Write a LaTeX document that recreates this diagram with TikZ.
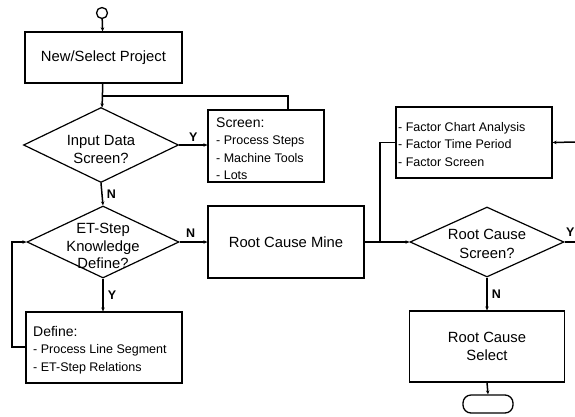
\documentclass[tikz,border=0pt]{standalone}
\usepackage{fontspec}
\setmainfont{Liberation Sans}
\usetikzlibrary{shapes.geometric,arrows.meta}
\begin{document}
\begin{tikzpicture}[x=1pt,y=-1pt,
  box/.style={draw,line width=1.2pt,inner sep=0pt},
  decision/.style={draw,diamond,line width=1.2pt,inner sep=0pt},
  flow/.style={line width=1.5pt,-{Stealth[length=4pt,width=3.5pt]}},
  link/.style={line width=1.5pt},
  maintext/.style={font=\fontsize{14.8}{18}\selectfont,align=center,inner sep=0pt},
  listtext/.style={font=\fontsize{12.5}{17.5}\selectfont,align=left,anchor=west,inner sep=0pt},
  yn/.style={font=\bfseries\fontsize{12.5}{14}\selectfont,inner sep=0pt}]
\useasboundingbox (0,0) rectangle (575,416);

% start / end markers
\node[draw,circle,line width=1.3pt,minimum size=11pt,inner sep=0pt] (start) at (102,13) {};
\node[draw,line width=1.3pt,rounded corners=8pt,minimum width=50pt,minimum height=18pt,inner sep=0pt] (stop) at (488,404) {};

% process boxes
\node[box,minimum width=157pt,minimum height=51pt] (proj) at (103.5,57.5) {};
\node[maintext] (projt) at (proj) {New/Select Project};

\node[box,minimum width=116pt,minimum height=72pt] (screen) at (266,146) {};
\node[listtext] (screent) at (216,148.5) {{\fontsize{14}{17.7}\selectfont Screen:}\\- Process Steps\\- Machine Tools\\- Lots};

\node[box,minimum width=156pt,minimum height=72pt] (mine) at (286,242) {};
\node[maintext] (minet) at (mine) {Root Cause Mine};

\node[box,minimum width=156pt,minimum height=71pt] (define) at (104,347.5) {};
\node[listtext] (definet) at (33,350) {{\fontsize{14}{16.5}\selectfont Define:}\\- Process Line Segment\\- ET-Step Relations};

\node[box,minimum width=156pt,minimum height=71pt] (factor) at (474,142.5) {};
\node[listtext] (factort) at (398,144.5) {- Factor Chart Analysis\\- Factor Time Period\\- Factor Screen};

\node[box,minimum width=155pt,minimum height=71pt] (select) at (487,346.5) {};
\node[maintext] (selectt) at (select) {Root Cause\\Select};

% decisions
\node[decision,minimum width=155pt,minimum height=75pt] (d1) at (101,145) {};
\node[maintext] (d1t) at (101,149) {Input Data\\Screen?};

\node[decision,minimum width=152pt,minimum height=72pt] (d2) at (103,242) {};
\node[maintext,font=\fontsize{14.8}{17.5}\selectfont] (d2t) at (103,246) {ET-Step\\Knowledge\\Define?};

\node[decision,minimum width=154pt,minimum height=70pt] (d3) at (487,242) {};
\node[maintext,font=\fontsize{14.8}{19}\selectfont] (d3t) at (487,244) {Root Cause\\Screen?};

% free ends at the right edge
\coordinate (exitY) at (575,242);
\coordinate (backin) at (575,142);

% connectors
\draw[flow] (start) -- (proj);
\draw[flow] (proj) -- (d1);
\draw[link] (screen.north -| 288,0) |- (102,96);
\draw[flow] (d1.east) -- node[yn,above=3pt] (ly1) {Y} (screen.west |- d1.east);
\draw[flow] (d1.south) -- node[yn,right=4pt] (ln1) {N} (d2.north);
\draw[flow] (d2.east) -- node[yn,above=4pt,pos=0.4] (ln2) {N} (mine.west |- d2.east);
\draw[flow] (d2.south) -- node[yn,right=4pt] (ly2) {Y} (define.north -| d2.south);
\draw[flow] (define.west |- 0,347) -- (12,347) |- (d2.west);
\draw[flow] (mine.east) -- (d3.west);
\draw[link] (factor.west) -| (380,242);
\draw[link] (d3.east) -- node[yn,above=5pt,pos=0.55] (ly3) {Y} (exitY);
\draw[flow] (backin) -- (factor.east);
\draw[flow] (d3.south) -- node[yn,right=4pt] (ln3) {N} (select.north);
\draw[flow] (select.south) -- (stop.north);
\end{tikzpicture}
\end{document}
